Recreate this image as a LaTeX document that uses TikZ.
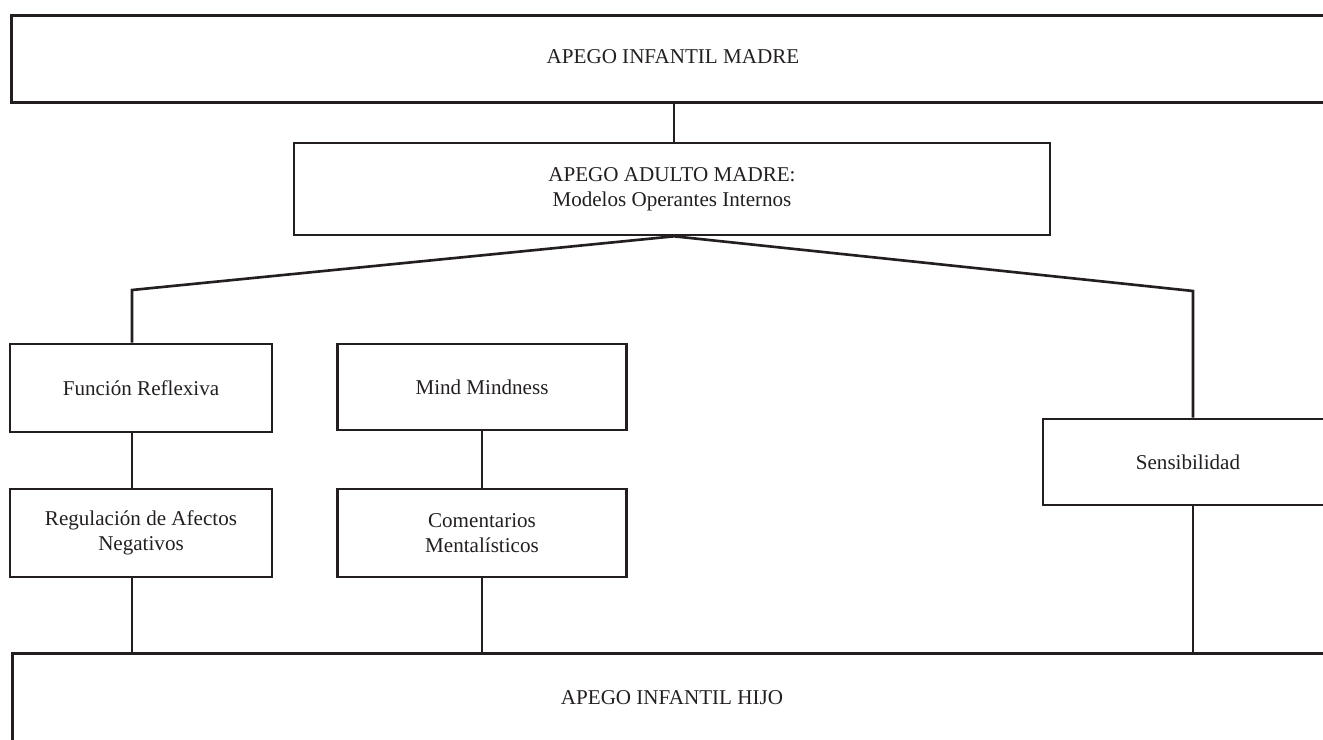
\documentclass[tikz,border=0pt]{standalone}
\usepackage{fontspec}
\setmainfont{Liberation Serif}
\definecolor{tinta}{HTML}{231F20}

\begin{document}
\begin{tikzpicture}[x=0.02cm, y=-0.02cm, line width=1.5pt, color=tinta,
  font=\fontsize{12}{14.2}\selectfont,
  caja/.style={draw, line width=1.5pt, align=center, inner sep=0pt}]
\clip (0,0) rectangle (1323,740);
% boxes
\node[caja, minimum width=28cm, minimum height=1.74cm, anchor=north west] (madre) at (10,14) {};
\node (madretxt) at (673,57) {APEGO INFANTIL MADRE};
\node[caja, minimum width=15.12cm, minimum height=1.84cm] (adulto) at (672,189) {APEGO ADULTO MADRE:\\Modelos Operantes Internos};
\node[caja, minimum width=5.24cm, minimum height=1.76cm] (funcion) at (141,388) {Función Reflexiva};
\node[caja, minimum width=5.24cm, minimum height=1.76cm] (regul) at (141,533) {Regulación de Afectos\\Negativos};
\node[caja, minimum width=5.78cm, minimum height=1.72cm] (mind) at (482,387) {Mind Mindness};
\node[caja, minimum width=5.78cm, minimum height=1.76cm] (coment) at (482,533) {Comentarios\\Mentalísticos};
\node[caja, minimum width=5.8cm, minimum height=1.72cm] (sensib) at (1188,462) {Sensibilidad};
\node[caja, minimum width=28cm, minimum height=4cm, anchor=north west] (hijo) at (11,652) {};
\node (hijotxt) at (672,698) {APEGO INFANTIL HIJO};
% connectors
\coordinate (cima) at (674,0);
\coordinate (kneeL) at (132,290);
\coordinate (kneeR) at (1193,291);
\draw (cima |- madre.south) -- (cima |- adulto.north);
\draw (kneeL |- funcion.north) -- (kneeL) -- (cima |- adulto.south) -- (kneeR) -- (kneeR |- sensib.north);
\draw (kneeL |- funcion.south) -- (kneeL |- regul.north);
\draw (kneeL |- regul.south) -- (kneeL |- hijo.north);
\draw (mind.south) -- (coment.north);
\draw (coment.south) -- (coment.south |- hijo.north);
\draw (kneeR |- sensib.south) -- (kneeR |- hijo.north);
\end{tikzpicture}
\end{document}
